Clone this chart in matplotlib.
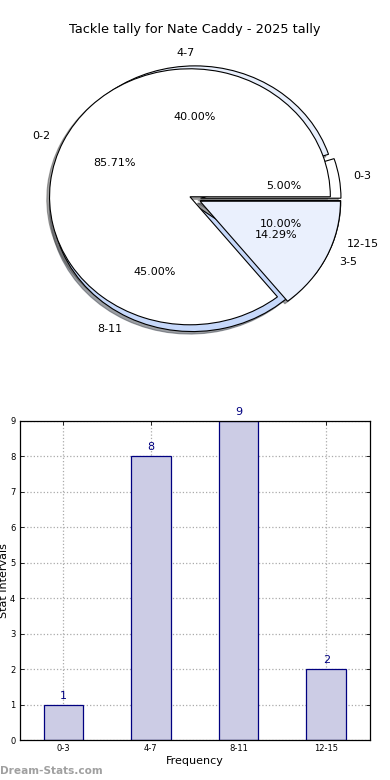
import matplotlib
matplotlib.use("Agg")
import matplotlib.pyplot as plt

# ---- data ----
categories = ['0-3', '4-7', '8-11', '12-15']
values = [1, 8, 9, 2]
prev_categories = ['0-2', '3-5']
prev_values = [6, 1]

title = 'Tackle tally for Nate Caddy - 2025 tally'
xlabel = 'Frequency'
ylabel = 'Stat Intervals'
watermark = 'Dream-Stats.com'

W, H = 390, 780
fig = plt.figure(figsize=(W / 100, H / 100), dpi=100)
fig.patch.set_facecolor('white')

def px_axes(left, top, right, bottom):
    return fig.add_axes([left / W, 1 - bottom / H, (right - left) / W, (bottom - top) / H])

# ---- pie ----
axp = px_axes(19.5, 39, 370.5, 359)
cols4 = ['#ffffff', '#e8effc', '#c6d8fa', '#eaf0fd']
cols2 = ['#ffffff', '#eaf0fd']
wprops = dict(edgecolor='black', linewidth=0.8)
shad = dict(ox=-0.014, oy=-0.014)
axp.pie(values, labels=categories, explode=[0.04] * len(values), colors=cols4,
        autopct='%1.2f%%', pctdistance=0.6, labeldistance=1.1, shadow=shad,
        wedgeprops=wprops, textprops=dict(fontsize=8))
axp.pie(prev_values, labels=prev_categories, explode=[0.04] * len(prev_values),
        colors=cols2, autopct='%1.2f%%', pctdistance=0.6, labeldistance=1.1,
        shadow=shad, wedgeprops=wprops, textprops=dict(fontsize=8))
axp.set_aspect('auto')
axp.set_xlim(-1.25, 1.25)
axp.set_ylim(-1.25, 1.25)
axp.axis('off')

fig.text(195 / W, 1 - 30 / H, title, ha='center', va='center', fontsize=9.3)

# ---- bar ----
axb = px_axes(19.5, 421, 370, 740.3)
x = list(range(len(categories)))
axb.bar(x, values, width=0.45, color='#ccccE5', edgecolor='navy', linewidth=0.9, zorder=2)
for xi, v in zip(x, values):
    axb.text(xi, v + 0.12, str(v), ha='center', va='bottom', color='navy', fontsize=8)
axb.set_xlim(-0.5, 3.5)
axb.set_ylim(0, 9)
axb.set_xticks(x)
axb.set_xticklabels(categories)
axb.set_yticks(range(0, 10))
axb.tick_params(direction='in', top=True, right=True, labelsize=6, length=3, width=0.6, pad=3)
axb.grid(True, linestyle=':', color='#aaaaaa', linewidth=0.9, zorder=0)
axb.set_axisbelow(True)
for s in axb.spines.values():
    s.set_linewidth(0.9)
axb.set_xlabel(xlabel, fontsize=8, labelpad=2)
axb.set_ylabel(ylabel, fontsize=8, labelpad=1)

fig.text(0, 9 / H, watermark, ha='left', va='center', fontsize=7.6, color='#a0a0a0', weight='bold')

fig.savefig('out.png', dpi=100)
